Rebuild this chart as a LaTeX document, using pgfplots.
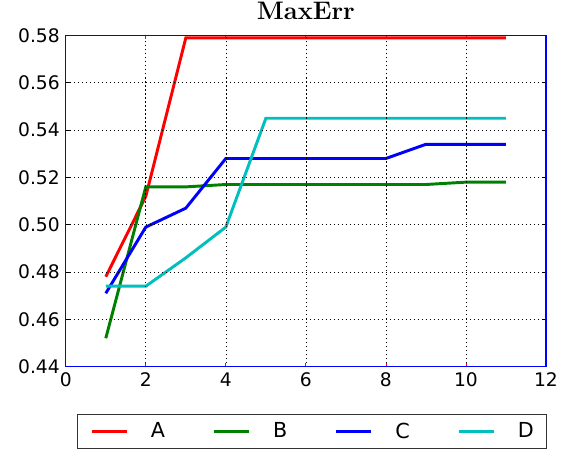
\documentclass[border=0pt]{standalone}
\usepackage{fontspec}
\newfontfamily\dejavu{DejaVu Sans}
\usepackage{pgfplots}
\pgfplotsset{compat=1.18}
\definecolor{cC}{rgb}{0,0.75,0.75}
\definecolor{gB}{rgb}{0,0.5,0}

\begin{document}
\begin{tikzpicture}
\begin{axis}[
    scale only axis,
    width=360pt, height=248.25pt,
    xmin=0, xmax=12, ymin=0.44, ymax=0.58,
    xtick={0,2,4,6,8,10,12},
    ytick={0.44,0.46,0.48,0.50,0.52,0.54,0.56,0.58},
    yticklabel style={xshift=-1pt, /pgf/number format/fixed, /pgf/number format/fixed zerofill, /pgf/number format/precision=2},
    tick label style={font=\dejavu\fontsize{14}{16}\selectfont},
    /pgf/number format/assume math mode=true,
    xticklabel style={yshift=-1pt},
    axis on top,
    axis line style={blue, line width=1pt},
    x tick style={red, line width=0.6pt},
    y tick style={black, line width=0.6pt},
    major tick length=3pt,
    grid=major,
    major grid style={black, line width=0.5pt, dash pattern=on 0.8pt off 2.2pt},
    title={\bfseries MaxErr},
    title style={font=\fontsize{19}{22}\selectfont, at={(0.5,1)}, anchor=base, yshift=6pt},
    legend columns=4,
    legend style={at={(0.0235,-0.1435)}, anchor=north west,
        font=\dejavu\fontsize{15.5}{18}\selectfont,
        draw=black!80, line width=0.8pt,
        inner xsep=9.5pt, inner ysep=6pt,
        nodes={inner sep=0pt},
        /tikz/every odd column/.append style={column sep=17.25pt},
        /tikz/every even column/.append style={column sep=35.5pt}},
    legend image code/.code={\draw[#1, line width=2pt] (0pt,0pt) -- (26.25pt,0pt);},
    every axis plot/.append style={line width=2.2pt},
]
\addplot[red] coordinates {(1,0.478) (2,0.512) (3,0.579) (4,0.579) (5,0.579) (6,0.579) (7,0.579) (8,0.579) (9,0.579) (10,0.579) (11,0.579)};
\addplot[gB] coordinates {(1,0.452) (2,0.516) (3,0.516) (4,0.517) (5,0.517) (6,0.517) (7,0.517) (8,0.517) (9,0.517) (10,0.518) (11,0.518)};
\addplot[blue] coordinates {(1,0.471) (2,0.499) (3,0.507) (4,0.528) (5,0.528) (6,0.528) (7,0.528) (8,0.528) (9,0.534) (10,0.534) (11,0.534)};
\addplot[cC] coordinates {(1,0.474) (2,0.474) (3,0.486) (4,0.499) (5,0.545) (6,0.545) (7,0.545) (8,0.545) (9,0.545) (10,0.545) (11,0.545)};
\legend{A,B,C,D}
\end{axis}
\pgfresetboundingbox
\path[use as bounding box] ([xshift=-49.3pt,yshift=-64.9pt]current axis.south west) rectangle ([xshift=18.75pt,yshift=26.6pt]current axis.north east);
\end{tikzpicture}
\end{document}
